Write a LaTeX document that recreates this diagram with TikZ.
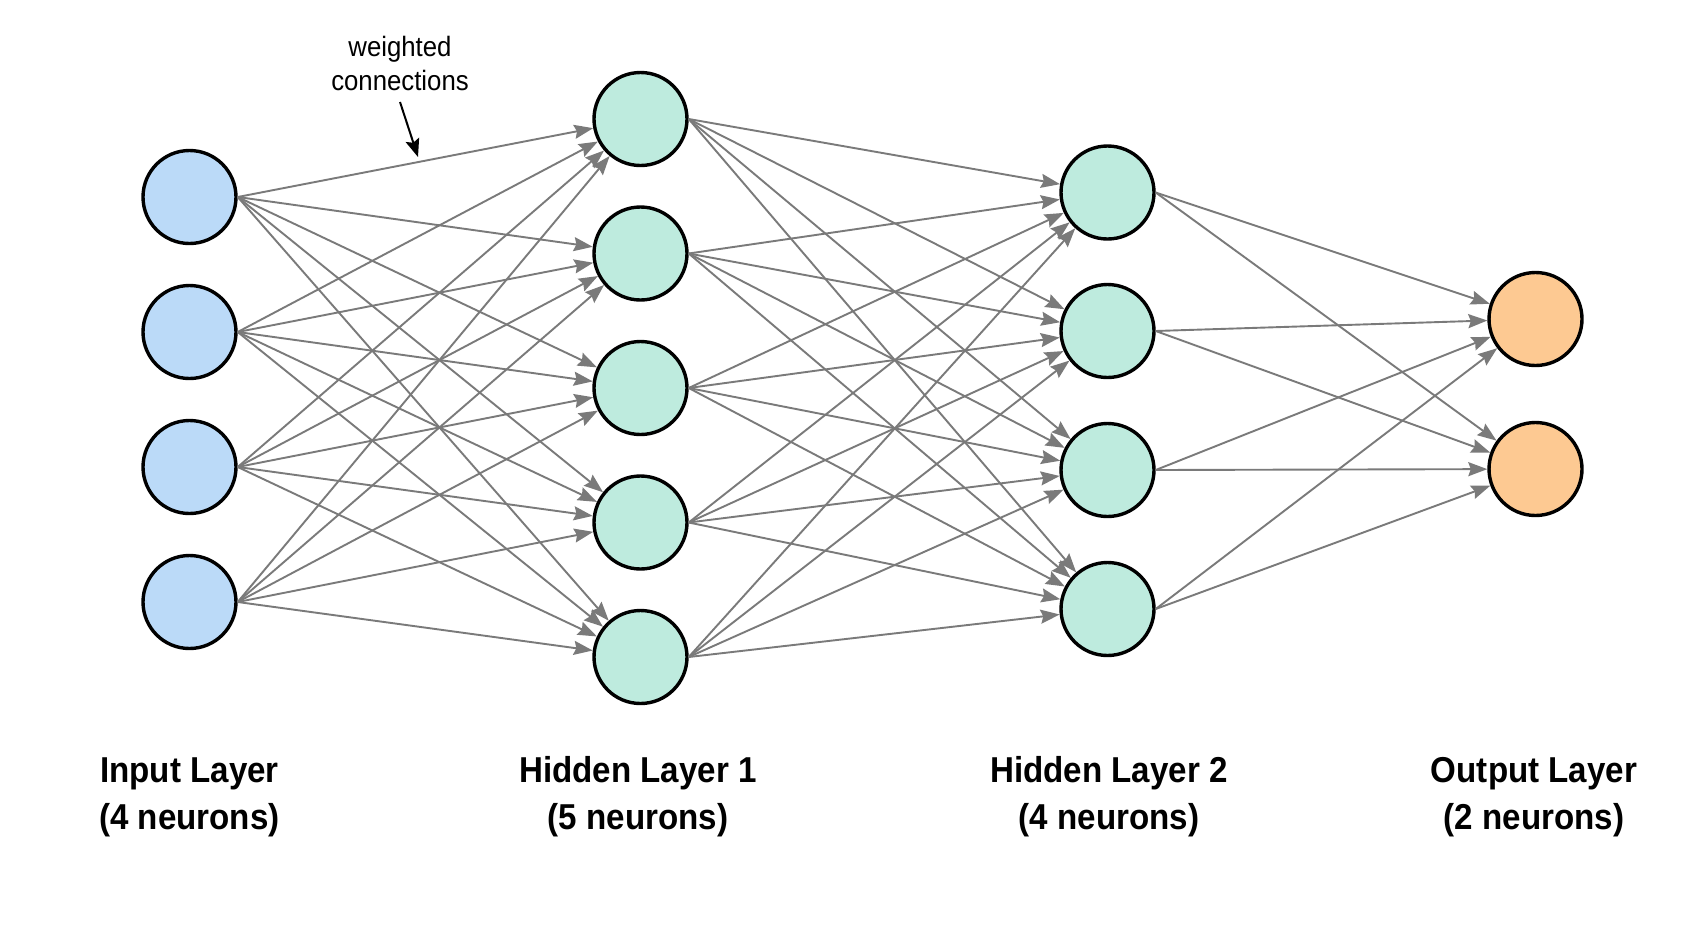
\documentclass[tikz,border=0pt]{standalone}
\usepackage{fontspec}
\setmainfont{Liberation Sans}
\newfontfamily\labelfont[FakeStretch=0.92]{Liberation Sans}
\newfontfamily\notefont[FakeStretch=0.92]{Liberation Sans}
\usetikzlibrary{arrows.meta}
\definecolor{inblue}{RGB}{187,218,248}
\definecolor{hidgreen}{RGB}{190,235,222}
\definecolor{outorange}{RGB}{253,201,146}
\definecolor{conngray}{RGB}{122,122,122}
\begin{document}
\begin{tikzpicture}[x=1pt,y=-1pt,
  neuron/.style={circle,draw=black,line width=3.4pt,minimum size=93pt,inner sep=0pt},
  conn/.style={draw=conngray,line width=1.9pt,-{Stealth[length=19pt,width=14pt,inset=2.5pt]}},
  lab/.style={font=\labelfont\fontsize{36}{47}\selectfont\bfseries,align=center,anchor=base},
  note/.style={font=\notefont\fontsize{28}{34}\selectfont,align=center,anchor=base}]
\useasboundingbox[fill=white] (0,0) rectangle (1693,929);
% input layer
\foreach \i/\y in {1/197,2/332,3/467,4/602}
  \node[neuron,fill=inblue] (i\i) at (189.5,\y) {};
% hidden layer 1
\foreach \i/\y in {1/119,2/253.5,3/388,4/522.5,5/657}
  \node[neuron,fill=hidgreen] (h\i) at (640.5,\y) {};
% hidden layer 2
\foreach \i/\y in {1/192.5,2/331,3/470,4/609}
  \node[neuron,fill=hidgreen] (g\i) at (1107.5,\y) {};
% output layer
\foreach \i/\y in {1/319,2/469}
  \node[neuron,fill=outorange] (o\i) at (1535.5,\y) {};
% connections
\foreach \a in {1,...,4}
  \foreach \b in {1,...,5}
    \draw[conn] (i\a.east) -- (h\b);
\foreach \a in {1,...,5}
  \foreach \b in {1,...,4}
    \draw[conn] (h\a.east) -- (g\b);
\foreach \a in {1,...,4}
  \foreach \b in {1,2}
    \draw[conn] (g\a.east) -- (o\b);
% annotation
\node[note] (note) at (400,90) {weighted\\connections};
\coordinate (notetip) at (418,157);
\coordinate (notestart) at (400,102);
\draw[line width=2pt,-{Stealth[length=18pt,width=14pt,inset=3pt]}] (notestart) -- (notetip);
% labels
\node[lab] (li) at (189.5,829) {Input Layer\\(4 neurons)};
\node[lab] (lh1) at (638,829) {Hidden Layer 1\\(5 neurons)};
\node[lab] (lh2) at (1109,829) {Hidden Layer 2\\(4 neurons)};
\node[lab] (lo) at (1534,829) {Output Layer\\(2 neurons)};
\end{tikzpicture}
\end{document}
